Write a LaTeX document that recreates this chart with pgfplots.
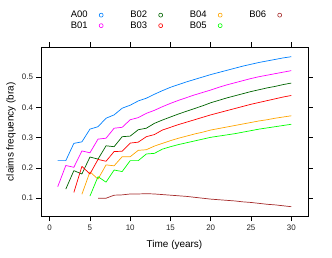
\documentclass[border=0pt]{standalone}
\usepackage{pgfplots}
\pgfplotsset{compat=1.18}
\usepackage{fontspec}
\setmainfont{Liberation Sans}
\definecolor{cA}{HTML}{0080FF}
\definecolor{cB1}{HTML}{FF00FF}
\definecolor{cB2}{HTML}{006400}
\definecolor{cB3}{HTML}{FF0000}
\definecolor{cB4}{HTML}{FFA500}
\definecolor{cB5}{HTML}{00FF00}
\definecolor{cB6}{HTML}{A52A2A}
\begin{document}
\begin{tikzpicture}
\useasboundingbox (-41bp,-41.3bp) rectangle (291bp,216.7bp);
\begin{axis}[
  at={(0,0)}, anchor=south west,
  scale only axis, width=267bp, height=169.7bp,
  xmin=-1.08, xmax=32.08, ymin=0.039, ymax=0.599,
  xtick={0,5,...,30}, ytick={0.1,0.2,0.3,0.4,0.5},
  yticklabel style={/pgf/number format/fixed, /pgf/number format/precision=1},
  /pgf/number format/assume math mode=true,
  tick align=outside, major tick length=4.5bp,
  tick style={black, line width=0.5bp},
  axis line style={black, line width=0.6bp},
  ticklabel style={font=\fontsize{8}{9}\selectfont, text=black!85},
  xlabel={Time (years)}, ylabel={claims frequency (bra)},
  label style={font=\fontsize{10}{12}\selectfont},
  xlabel style={at={(axis description cs:0.5,-0.167)}, anchor=center},
  ylabel style={at={(axis description cs:-0.112,0.5)}, anchor=center},
  every axis plot/.append style={line width=0.7bp, line join=round},
  legend columns=4,
  legend plot pos=right,
  legend cell align=left,
  legend image code/.code={\path[draw=none, fill=none] (0bp,0bp) -- (30.8bp,0bp); \draw[#1, line width=0.6bp, fill=none] (1.6bp,0bp) circle (2bp);},
  legend style={draw=none, fill=none, at={(axis description cs:0.1112,1.2127)}, anchor=north west,
    font=\fontsize{9.5}{11}\selectfont, inner sep=0pt, row sep=2.4bp, column sep=0pt,
    nodes={inner sep=0pt}},
]
\addplot[color=cA] coordinates {(1,.224)(2,.224)(3,.281)(4,.286)(5,.328)(6,.336)(7,.364)(8,.375)(9,.397)(10,.407)(11,.421)(12,.430)(13,.443)(14,.455)(15,.466)(16,.475)(17,.484)(18,.492)(19,.500)(20,.508)(21,.515)(22,.522)(23,.529)(24,.536)(25,.542)(26,.548)(27,.553)(28,.558)(29,.563)(30,.567)};
\addlegendentry{\makebox[28bp][l]{A00}}
\addplot[color=cB2] coordinates {(2,.130)(3,.191)(4,.180)(5,.236)(6,.229)(7,.273)(8,.270)(9,.303)(10,.305)(11,.326)(12,.331)(13,.347)(14,.358)(15,.368)(16,.378)(17,.387)(18,.396)(19,.405)(20,.415)(21,.423)(22,.431)(23,.438)(24,.445)(25,.452)(26,.458)(27,.464)(28,.469)(29,.475)(30,.480)};
\addlegendentry{\makebox[28bp][l]{B02}}
\addplot[color=cB4] coordinates {(4,.113)(5,.187)(6,.163)(7,.210)(8,.207)(9,.237)(10,.237)(11,.258)(12,.260)(13,.272)(14,.281)(15,.290)(16,.298)(17,.305)(18,.312)(19,.318)(20,.325)(21,.330)(22,.335)(23,.340)(24,.345)(25,.350)(26,.355)(27,.359)(28,.364)(29,.368)(30,.372)};
\addlegendentry{\makebox[28bp][l]{B04}}
\addplot[color=cB6] coordinates {(6,.100)(7,.100)(8,.110)(9,.111)(10,.114)(11,.114)(12,.115)(13,.114)(14,.112)(15,.110)(16,.108)(17,.106)(18,.103)(19,.100)(20,.097)(21,.095)(22,.093)(23,.091)(24,.088)(25,.086)(26,.083)(27,.080)(28,.078)(29,.075)(30,.072)};
\addlegendentry{\makebox[28bp][l]{B06}}
\addplot[color=cB1] coordinates {(1,.138)(2,.208)(3,.202)(4,.256)(5,.250)(6,.295)(7,.298)(8,.331)(9,.334)(10,.359)(11,.366)(12,.380)(13,.390)(14,.402)(15,.413)(16,.423)(17,.432)(18,.441)(19,.449)(20,.457)(21,.466)(22,.474)(23,.481)(24,.488)(25,.495)(26,.501)(27,.506)(28,.511)(29,.516)(30,.521)};
\addlegendentry{\makebox[28bp][l]{B01}}
\addplot[color=cB3] coordinates {(3,.119)(4,.205)(5,.180)(6,.228)(7,.222)(8,.254)(9,.255)(10,.282)(11,.285)(12,.303)(13,.310)(14,.325)(15,.334)(16,.343)(17,.351)(18,.359)(19,.367)(20,.375)(21,.382)(22,.389)(23,.396)(24,.403)(25,.410)(26,.416)(27,.422)(28,.428)(29,.434)(30,.439)};
\addlegendentry{\makebox[28bp][l]{B03}}
\addplot[color=cB5] coordinates {(5,.107)(6,.171)(7,.153)(8,.193)(9,.188)(10,.224)(11,.224)(12,.246)(13,.248)(14,.262)(15,.270)(16,.277)(17,.283)(18,.289)(19,.295)(20,.301)(21,.305)(22,.309)(23,.313)(24,.318)(25,.323)(26,.328)(27,.332)(28,.336)(29,.340)(30,.344)};
\addlegendentry{\makebox[28bp][l]{B05}}
\end{axis}
\end{tikzpicture}
\end{document}
